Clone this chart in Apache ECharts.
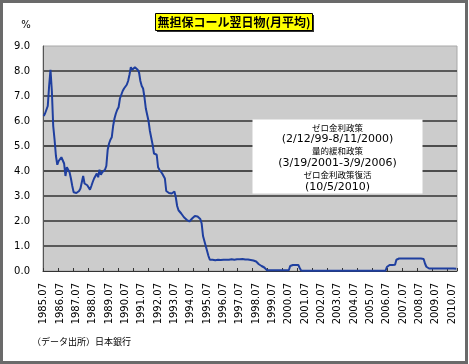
<!DOCTYPE html>
<html>
<head>
<meta charset="utf-8">
<script src="https://cdn.jsdelivr.net/npm/echarts@6/dist/echarts.min.js"></script>
<style>
html,body{margin:0;padding:0;background:#fff;}
#chart{width:469px;height:364px;}
</style>
</head>
<body>
<div id="chart"></div>
<script>
// ---- data ----
var startYear = 1985, startMonth = 7, monthCount = 304;
var categories = [];
for (var i = 0; i < monthCount; i++) {
  var mm = startMonth - 1 + i;
  var y = startYear + Math.floor(mm / 12);
  var m = (mm % 12) + 1;
  categories.push(y + '.' + (m < 10 ? '0' + m : m));
}
var callRate = [
  6.2, 6.3, 6.45, 6.6, 7.4, 8.05, 7.2, 5.8, 5.25, 4.6, 4.25, 4.4,
  4.45, 4.55, 4.6, 4.3, 3.8, 4.15, 4.1, 3.95, 3.7, 3.4, 3.15, 3.12,
  3.12, 3.13, 3.2, 3.3, 3.35, 3.8, 3.5, 3.55, 3.43, 3.35, 3.25, 3.4,
  3.56, 3.7, 3.8, 3.9, 3.75, 4.05, 3.85, 3.95, 4.0, 4.05, 4.2, 4.85,
  5.1, 5.25, 5.35, 5.8, 6.1, 6.3, 6.45, 6.55, 6.9, 7.05, 7.2, 7.3,
  7.38, 7.45, 7.6, 7.85, 8.15, 8.05, 8.1, 8.15, 8.2, 8.05, 7.95, 7.6,
  7.4, 7.3, 6.95, 6.5, 6.25, 6.0, 5.6, 5.55, 5.05, 4.7, 4.68, 4.65,
  4.15, 4.05, 3.98, 3.9, 3.83, 3.7, 3.2, 3.12, 3.12, 3.1, 3.1, 3.12,
  3.18, 2.95, 2.6, 2.43, 2.35, 2.3, 2.22, 2.15, 2.1, 2.05, 2.0, 1.98,
  2.05, 2.1, 2.15, 2.2, 2.2, 2.18, 2.12, 2.08, 1.9, 1.4, 1.2, 1.0,
  0.8, 0.6, 0.45, 0.44, 0.45, 0.44, 0.43, 0.44, 0.45, 0.44, 0.44, 0.45,
  0.45, 0.46, 0.45, 0.44, 0.45, 0.46, 0.47, 0.46, 0.45, 0.46, 0.47, 0.46,
  0.47, 0.46, 0.48, 0.47, 0.46, 0.47, 0.46, 0.45, 0.44, 0.43, 0.42, 0.41,
  0.38, 0.33, 0.27, 0.24, 0.2, 0.18, 0.14, 0.06, 0.03, 0.03, 0.03, 0.03,
  0.03, 0.03, 0.03, 0.03, 0.03, 0.03, 0.03, 0.03, 0.03, 0.03, 0.03, 0.03,
  0.03, 0.2, 0.24, 0.24, 0.24, 0.24, 0.24, 0.24, 0.12, 0.02, 0.01, 0.01,
  0.01, 0.01, 0.01, 0.01, 0.01, 0.01, 0.01, 0.01, 0.01, 0.01, 0.01, 0.01,
  0.01, 0.01, 0.01, 0.01, 0.01, 0.01, 0.01, 0.01, 0.01, 0.01, 0.01, 0.01,
  0.01, 0.01, 0.01, 0.01, 0.01, 0.01, 0.01, 0.01, 0.01, 0.01, 0.01, 0.01,
  0.01, 0.01, 0.01, 0.01, 0.01, 0.01, 0.01, 0.01, 0.01, 0.01, 0.01, 0.01,
  0.01, 0.01, 0.01, 0.01, 0.01, 0.01, 0.01, 0.01, 0.01, 0.01, 0.01, 0.01,
  0.16, 0.23, 0.24, 0.24, 0.24, 0.24, 0.25, 0.45, 0.5, 0.5, 0.5, 0.5,
  0.5, 0.5, 0.5, 0.5, 0.5, 0.5, 0.5, 0.5, 0.5, 0.5, 0.5, 0.5,
  0.5, 0.5, 0.5, 0.48, 0.3, 0.17, 0.1, 0.1, 0.1, 0.1, 0.1, 0.1,
  0.1, 0.1, 0.1, 0.1, 0.1, 0.1, 0.1, 0.1, 0.1, 0.1, 0.1, 0.1,
  0.1, 0.1, 0.09, 0.09
];
var titleText = '無担保コール翌日物(月平均)';
var unitText = '%';
var sourceText = '（データ出所）日本銀行';
var noteLines = [
  {t: 'ゼロ金利政策', cjk: true},
  {t: '(2/12/99-8/11/2000)', cjk: false},
  {t: '量的緩和政策', cjk: true},
  {t: '(3/19/2001-3/9/2006)', cjk: false},
  {t: 'ゼロ金利政策復活', cjk: true},
  {t: '(10/5/2010)', cjk: false}
];

var LATIN = '"DejaVu Sans", Verdana, sans-serif';
var CJK = '"Noto Sans CJK JP", "DejaVu Sans", sans-serif';

var graphics = [
  {type: 'rect', z: 100, shape: {x: 1.5, y: 1.5, width: 465, height: 361},
   style: {fill: 'none', stroke: '#6a6a6a', lineWidth: 3}},
  {type: 'rect', z: 100, shape: {x: 157, y: 15, width: 157, height: 17},
   style: {fill: '#333', stroke: 'none'}},
  {type: 'rect', z: 101, shape: {x: 155.5, y: 13.5, width: 157, height: 17},
   style: {fill: '#ffff00', stroke: '#000', lineWidth: 1}},
  {type: 'text', z: 102, x: 234, y: 22.5,
   style: {text: titleText, font: 'bold 12px ' + CJK, fill: '#000', textAlign: 'center', textVerticalAlign: 'middle'}},
  {type: 'text', z: 102, x: 26, y: 25,
   style: {text: unitText, font: '10px ' + LATIN, fill: '#000', textAlign: 'center', textVerticalAlign: 'middle'}},
  {type: 'rect', z: 100, shape: {x: 252.5, y: 119.5, width: 170, height: 74},
   style: {fill: '#fff', stroke: 'none'}},
  {type: 'text', z: 102, x: 32, y: 342,
   style: {text: sourceText, font: '9px ' + CJK, fill: '#000', textAlign: 'left', textVerticalAlign: 'middle'}}
];
noteLines.forEach(function (ln, i) {
  graphics.push({type: 'text', z: 102, x: 337.5, y: 127.3 + i * 11.9,
    style: {text: ln.t, font: (ln.cjk ? '8.5px ' + CJK : '11px ' + LATIN), fill: '#000',
            textAlign: 'center', textVerticalAlign: 'middle'}});
});

var chart = echarts.init(document.getElementById('chart'), null, {renderer: 'canvas'});
chart.setOption({
  animation: false,
  backgroundColor: '#fff',
  grid: {left: 43, top: 46, width: 414, height: 225, show: true,
         backgroundColor: '#cccccc', borderColor: '#a8a8a8', borderWidth: 1},
  xAxis: {
    type: 'category', data: categories, boundaryGap: true,
    axisLine: {lineStyle: {color: '#333', width: 1}},
    axisTick: {show: true, inside: true, length: 3, interval: 10, lineStyle: {color: '#333'}},
    axisLabel: {interval: 11, rotate: 90, margin: 12, fontSize: 10, fontFamily: LATIN, color: '#000'},
    splitLine: {show: false}
  },
  yAxis: {
    type: 'value', min: 0, max: 9, interval: 1,
    axisLine: {show: true, lineStyle: {color: '#555', width: 1}},
    axisTick: {show: false},
    axisLabel: {margin: 13, fontSize: 10, fontFamily: LATIN, color: '#000',
                formatter: function (v) { return v.toFixed(1); }},
    splitLine: {show: true, lineStyle: {width: 1.5,
      color: ['rgba(0,0,0,0)', '#333', '#333', '#333', '#222', '#222', '#333', '#333', '#333', 'rgba(0,0,0,0)']}}
  },
  series: [{
    type: 'line', data: callRate, symbol: 'none', showSymbol: false,
    lineStyle: {color: '#1f3f9f', width: 2}, z: 5
  }],
  graphic: graphics
});
</script>
</body>
</html>
